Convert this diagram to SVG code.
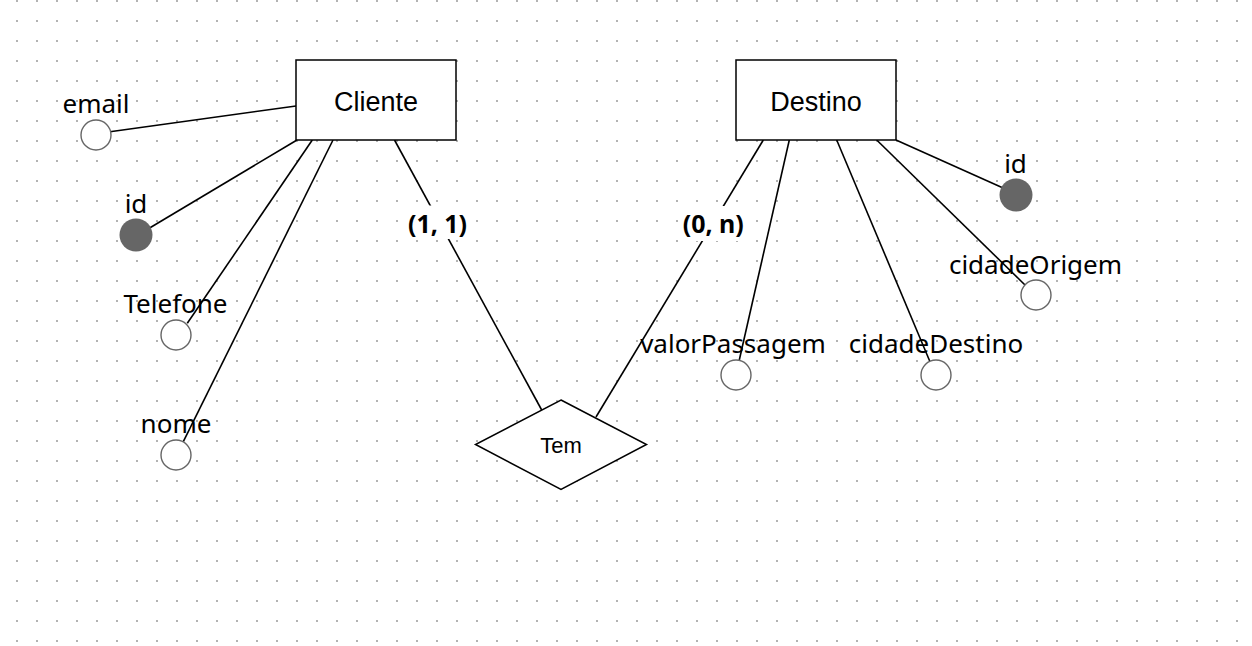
<svg xmlns="http://www.w3.org/2000/svg" width="1252" height="646" viewBox="0 0 1252 646">
  <defs>
    <pattern id="grid" patternUnits="userSpaceOnUse" x="0" y="0" width="20" height="20">
      <rect x="16" y="0" width="2" height="2" fill="#b3b3b3"/>
    </pattern>
    <style>
      .ent { fill: #fff; stroke: #000; stroke-width: 1.5; }
      .rel { fill: #fff; stroke: #000; stroke-width: 1.5; }
      .etxt { font-family: "Liberation Sans", Arial, sans-serif; font-size: 27px; fill: #000; text-anchor: middle; }
      .rtxt { font-family: "Liberation Sans", Arial, sans-serif; font-size: 22px; fill: #000; text-anchor: middle; }
      .attr { fill: #fff; stroke: #666; stroke-width: 1.4; }
      .key { fill: #666; stroke: none; }
      .atxt { font-family: "Noto Sans", "Open Sans", sans-serif; font-size: 26px; fill: #000; text-anchor: middle; }
      .card { font-family: "Noto Sans", "Open Sans", sans-serif; font-size: 25px; font-weight: bold; fill: #000; text-anchor: middle; }
      .ln { stroke: #000; stroke-width: 1.6; fill: none; }
    </style>
  </defs>
  <rect x="0" y="0" width="1252" height="646" fill="#fff"/>
  <rect x="0" y="0" width="1252" height="646" fill="url(#grid)"/>

  <g id="connectors">
    <line class="ln" x1="296" y1="106" x2="110" y2="131.7"/>
    <line class="ln" x1="297" y1="140" x2="150" y2="227.7"/>
    <line class="ln" x1="312.3" y1="140" x2="187.3" y2="323.3"/>
    <line class="ln" x1="333" y1="140" x2="183.3" y2="441.7"/>
    <line class="ln" x1="394.5" y1="140" x2="541.7" y2="410"/>
    <line class="ln" x1="763.3" y1="140" x2="596" y2="417"/>
    <line class="ln" x1="789.3" y1="140" x2="739.3" y2="360"/>
    <line class="ln" x1="836.7" y1="140" x2="930" y2="361.7"/>
    <line class="ln" x1="876.7" y1="140" x2="1025" y2="285"/>
    <line class="ln" x1="896" y1="140" x2="1002" y2="187.5"/>
    <g id="card-cliente">
      <rect x="407" y="205.5" width="62" height="33.5" fill="#fff"/>
      <text class="card" x="437.5" y="232.5">(1, 1)</text>
    </g>
    <g id="card-destino">
      <rect x="679" y="206" width="69" height="35" fill="#fff"/>
      <text class="card" x="713.3" y="232.5">(0, n)</text>
    </g>
  </g>

  <g id="cliente">
    <rect class="ent" x="296" y="60" width="160" height="80"/>
    <text class="etxt" x="376" y="110.5">Cliente</text>
  </g>
  <g id="destino">
    <rect class="ent" x="736" y="60" width="160" height="80"/>
    <text class="etxt" x="816" y="110.5">Destino</text>
  </g>
  <g id="tem">
    <polygon class="rel" points="561,400 646.5,444.5 561,489.5 475.5,444.5"/>
    <text class="rtxt" x="561" y="452.5">Tem</text>
  </g>

  <g id="attr-email">
    <circle class="attr" cx="96" cy="135" r="15"/>
    <text class="atxt" x="96" y="113">email</text>
  </g>
  <g id="attr-cliente-id">
    <circle class="key" cx="136" cy="235" r="16.5"/>
    <text class="atxt" x="136" y="213">id</text>
  </g>
  <g id="attr-telefone">
    <circle class="attr" cx="176" cy="335" r="15"/>
    <text class="atxt" x="175.5" y="313">Telefone</text>
  </g>
  <g id="attr-nome">
    <circle class="attr" cx="176" cy="455" r="15"/>
    <text class="atxt" x="176" y="433">nome</text>
  </g>
  <g id="attr-destino-id">
    <circle class="key" cx="1016" cy="195" r="16.5"/>
    <text class="atxt" x="1015.5" y="173">id</text>
  </g>
  <g id="attr-cidadeOrigem">
    <circle class="attr" cx="1036" cy="295" r="15"/>
    <text class="atxt" x="1035.5" y="274">cidadeOrigem</text>
  </g>
  <g id="attr-valorPassagem">
    <circle class="attr" cx="736" cy="375" r="15"/>
    <text class="atxt" x="733" y="353">valorPassagem</text>
  </g>
  <g id="attr-cidadeDestino">
    <circle class="attr" cx="936" cy="375" r="15"/>
    <text class="atxt" x="936" y="353">cidadeDestino</text>
  </g>
</svg>
